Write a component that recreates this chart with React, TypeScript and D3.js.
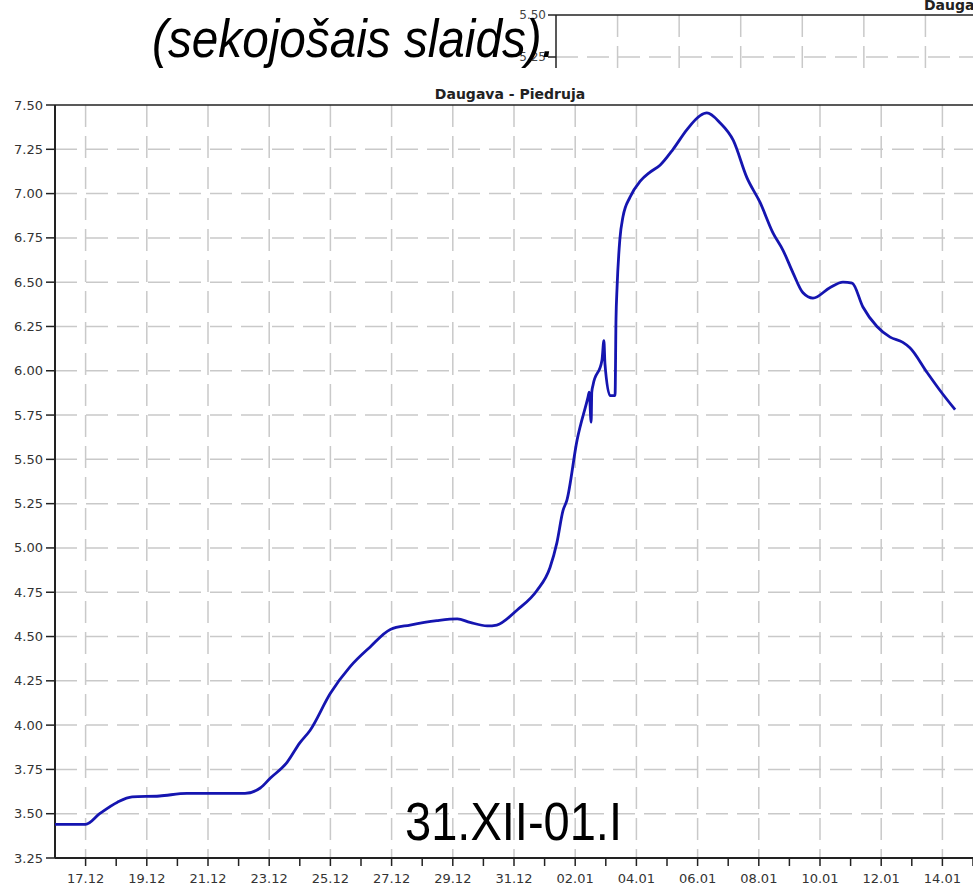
import React from "react";
import * as d3 from "d3";

const times: string[] = [
  "2011-12-16T00:00", "2011-12-17T00:00", "2011-12-17T11:00", "2011-12-18T01:00", "2011-12-18T12:30",
  "2011-12-19T10:00", "2011-12-20T07:30", "2011-12-22T05:00", "2011-12-22T17:00", "2011-12-23T00:45",
  "2011-12-23T14:00", "2011-12-24T00:00", "2011-12-24T08:00", "2011-12-25T00:00", "2011-12-25T15:30",
  "2011-12-26T07:00", "2011-12-26T23:00", "2011-12-27T14:30", "2011-12-28T11:30", "2011-12-29T03:30",
  "2011-12-29T13:30", "2011-12-30T03:00", "2011-12-30T10:30", "2011-12-31T02:30", "2011-12-31T18:00",
  "2012-01-01T04:15", "2012-01-01T09:40", "2012-01-01T14:25", "2012-01-01T17:30", "2012-01-02T01:30",
  "2012-01-02T10:00", "2012-01-02T11:00", "2012-01-02T12:30", "2012-01-02T13:00", "2012-01-02T14:00",
  "2012-01-02T21:00", "2012-01-02T22:30", "2012-01-02T23:20", "2012-01-03T03:20", "2012-01-03T07:15",
  "2012-01-03T08:00", "2012-01-03T08:50", "2012-01-03T11:00", "2012-01-03T13:30", "2012-01-03T19:00",
  "2012-01-04T03:00", "2012-01-04T10:30", "2012-01-04T18:30", "2012-01-05T04:45", "2012-01-05T15:30",
  "2012-01-06T02:00", "2012-01-06T07:15", "2012-01-06T17:30", "2012-01-07T04:00", "2012-01-07T14:40",
  "2012-01-08T01:00", "2012-01-08T11:00", "2012-01-08T19:00", "2012-01-09T03:00", "2012-01-09T10:40",
  "2012-01-09T18:30", "2012-01-10T08:00", "2012-01-10T18:00", "2012-01-11T01:10", "2012-01-11T09:40",
  "2012-01-11T20:40", "2012-01-12T07:00", "2012-01-12T17:00", "2012-01-12T22:30", "2012-01-13T12:00",
  "2012-01-13T22:00", "2012-01-14T10:00",
];

const levels: number[] = [
  3.44, 3.44, 3.50, 3.565, 3.595,
  3.60, 3.615, 3.615, 3.645, 3.70,
  3.79, 3.90, 3.97, 4.18, 4.33,
  4.44, 4.54, 4.565, 4.59, 4.60,
  4.58, 4.56, 4.565, 4.65, 4.76,
  4.89, 5.03, 5.21, 5.27, 5.61,
  5.85, 5.88, 5.71, 5.88, 5.92,
  6.06, 6.17, 6.04, 5.86, 5.86,
  6.29, 6.47, 6.74, 6.87, 6.98,
  7.07, 7.12, 7.16, 7.25, 7.36,
  7.44, 7.455, 7.40, 7.30, 7.09,
  6.95, 6.78, 6.68, 6.55, 6.44,
  6.41, 6.47, 6.50, 6.495, 6.36,
  6.25, 6.19, 6.16, 6.13, 5.99,
  5.89, 5.78,
];

const xTickLabels: string[] = [
  "17.12", "19.12", "21.12", "23.12", "25.12", "27.12", "29.12", "31.12",
  "02.01", "04.01", "06.01", "08.01", "10.01", "12.01", "14.01",
];
const yTicks: number[] = d3.range(3.25, 7.5001, 0.25);
const insetYTicks: number[] = [5.25, 5.5];
const insetXTicks: number[] = [1, 2, 3, 4, 5, 6, 7];

const chartTitle = "Daugava - Piedruja";
const slideText = "(sekojošais slaids).";
const periodText = "31.XII-01.I";

const parse = d3.timeParse("%Y-%m-%dT%H:%M");
const labelToDate = (s: string) => {
  const [dd, mm] = s.split(".");
  const yr = mm === "12" ? 2011 : 2012;
  return new Date(yr, +mm - 1, +dd);
};

export default function App() {
  const W = 973, H = 886;
  const left = 55, top = 105, bottom = 858, right = 973;
  const x = d3.scaleTime()
    .domain([new Date(2011, 11, 16), new Date(2012, 0, 15)])
    .range([left, right]);
  const y = d3.scaleLinear().domain([3.25, 7.5]).range([bottom, top]);
  const data = times.map((t, i) => ({ t: parse(t) as Date, v: levels[i] }));
  const line = d3.line<{ t: Date; v: number }>()
    .x(d => x(d.t)).y(d => y(d.v))
    .curve(d3.curveMonotoneX);
  const dayTicks = d3.timeDay.range(new Date(2011, 11, 17), new Date(2012, 0, 15, 1));
  const majorDates = xTickLabels.map(labelToDate);

  // inset (partially visible chart at top)
  const ix = d3.scaleLinear().domain([0, 7]).range([556, 987]);
  const iy = d3.scaleLinear().domain([5.25, 5.5]).range([57, 15]);

  const grid = "#c9c9c9";
  const dash = "22,9";
  const font = "DejaVu Sans, Verdana, sans-serif";

  return (
    <svg width={W} height={H} style={{ position: "absolute", left: 0, top: 0, background: "#fff" }}>
      <rect width={W} height={H} fill="#fff" />
      {/* inset chart */}
      <g>
        <clipPath id="insetClip"><rect x={0} y={0} width={W} height={68} /></clipPath>
        <g clipPath="url(#insetClip)">
          {insetXTicks.map(t => (
            <line key={t} x1={ix(t)} x2={ix(t)} y1={iy(5.5)} y2={80} stroke={grid} strokeWidth={1.5} strokeDasharray={dash} />
          ))}
          {insetYTicks.filter(v => v < 5.5).map(v => (
            <line key={v} x1={ix(0)} x2={W} y1={iy(v)} y2={iy(v)} stroke={grid} strokeWidth={1.5} strokeDasharray={dash} />
          ))}
          <line x1={ix(0)} x2={ix(0)} y1={iy(5.5)} y2={80} stroke="#222" strokeWidth={1.5} />
          <line x1={ix(0)} x2={W} y1={iy(5.5)} y2={iy(5.5)} stroke="#222" strokeWidth={1.5} />
          {insetYTicks.map(v => (
            <g key={v}>
              <line x1={ix(0) - 8} x2={ix(0)} y1={iy(v)} y2={iy(v)} stroke="#222" strokeWidth={1.5} />
              <text x={ix(0) - 10} y={iy(v) + 4} textAnchor="end" fontFamily={font} fontSize={12} fill="#444">{v.toFixed(2)}</text>
            </g>
          ))}
          <text x={924} y={10} fontFamily={font} fontSize={14} fontWeight="bold" fill="#222">{chartTitle}</text>
        </g>
      </g>

      {/* slide text */}
      <text x={152} y={57} fontFamily="Liberation Sans, Arial, sans-serif" fontStyle="italic" fontSize={54}
        textLength={403} lengthAdjust="spacingAndGlyphs" fill="#000">{slideText}</text>

      {/* main chart grid */}
      {majorDates.map((d, i) => (
        <line key={"vg" + i} x1={x(d)} x2={x(d)} y1={top} y2={bottom} stroke={grid} strokeWidth={1.5} strokeDasharray={dash} />
      ))}
      {yTicks.slice(1, -1).map(v => (
        <line key={"hg" + v} x1={left} x2={right} y1={y(v)} y2={y(v)} stroke={grid} strokeWidth={1.5} strokeDasharray={dash} />
      ))}

      {/* axes */}
      <line x1={left} x2={right} y1={top} y2={top} stroke="#222" strokeWidth={1.5} />
      <line x1={left} x2={left} y1={top} y2={bottom} stroke="#222" strokeWidth={2} />
      <line x1={left} x2={right} y1={bottom} y2={bottom} stroke="#222" strokeWidth={2} />
      {yTicks.map(v => (
        <g key={"yt" + v}>
          <line x1={left - 9} x2={left} y1={y(v)} y2={y(v)} stroke="#222" strokeWidth={1.5} />
          <text x={left - 12} y={y(v) + 4.5} textAnchor="end" fontFamily={font} fontSize={13} fill="#333">{v.toFixed(2)}</text>
        </g>
      ))}
      {dayTicks.map((d, i) => (
        <line key={"xt" + i} x1={x(d)} x2={x(d)} y1={bottom} y2={bottom + 8} stroke="#222" strokeWidth={1.5} />
      ))}
      {majorDates.map((d, i) => (
        <text key={"xl" + i} x={x(d)} y={883} textAnchor="middle" fontFamily={font} fontSize={13} fill="#333">{xTickLabels[i]}</text>
      ))}

      <text x={(left + right) / 2 - 4} y={99} textAnchor="middle" fontFamily={font} fontSize={14} fontWeight="bold" fill="#222">{chartTitle}</text>

      {/* data line */}
      <path d={line(data) || ""} fill="none" stroke="#1515b0" strokeWidth={2.8} strokeLinejoin="round" />

      {/* period label */}
      <text x={405} y={840} fontFamily="Liberation Sans, Arial, sans-serif" fontSize={54}
        textLength={217} lengthAdjust="spacingAndGlyphs" fill="#000">{periodText}</text>
    </svg>
  );
}
